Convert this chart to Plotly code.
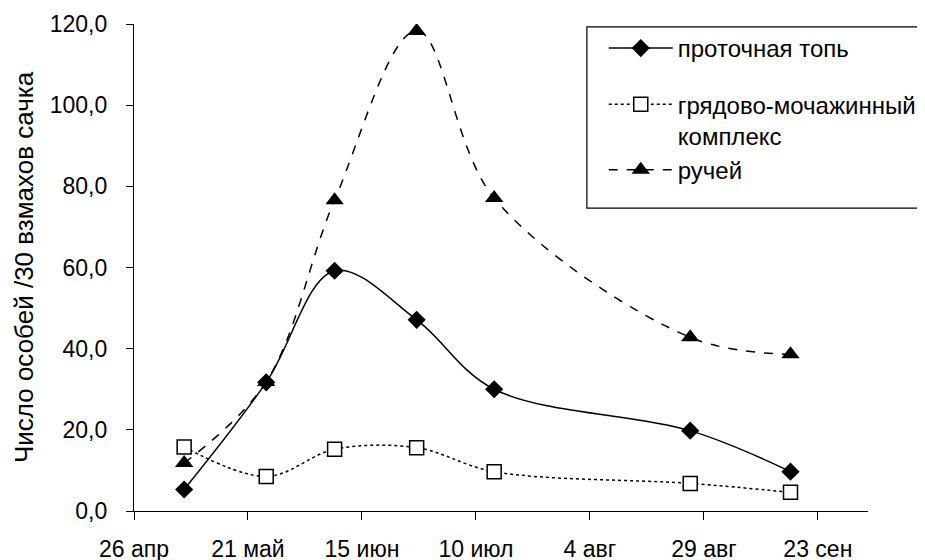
import plotly.graph_objects as go

# sampling dates (year is arbitrary, only day/month matter)
dates = ["2001-05-07", "2001-05-25", "2001-06-09", "2001-06-27",
         "2001-07-14", "2001-08-26", "2001-09-17"]

protochnaya = [5.3, 31.7, 59.2, 47.1, 30.0, 19.8, 9.7]
gryadovo = [15.8, 8.5, 15.2, 15.6, 9.7, 6.8, 4.6]
ruchey = [11.8, 31.8, 76.6, 118.3, 77.1, 42.8, 38.6]

series_names = ["проточная топь", "грядово-мочажинный<br>комплекс", "ручей"]

tick_dates = ["2001-04-26", "2001-05-21", "2001-06-15", "2001-07-10",
              "2001-08-04", "2001-08-29", "2001-09-23"]
tick_labels = ["26 апр", "21 май", "15 июн", "10 июл", "4 авг", "29 авг", "23 сен"]

FONT = "Liberation Sans, Arial, sans-serif"

fig = go.Figure()

fig.add_trace(go.Scatter(
    x=dates, y=protochnaya, name=series_names[0], legendgroup="a",
    mode="lines+markers", line=dict(color="black", width=1.5, shape="spline"),
    marker=dict(symbol="diamond", size=14, color="black")))

fig.add_trace(go.Scatter(
    x=dates, y=gryadovo, name=series_names[1], legendgroup="b",
    mode="lines+markers", line=dict(color="black", width=1.5, dash="dot", shape="spline"),
    marker=dict(symbol="square", size=14, color="white", line=dict(color="black", width=1.5))))

fig.add_trace(go.Scatter(
    x=dates, y=ruchey, name=series_names[2], legendgroup="b",
    mode="lines+markers", line=dict(color="black", width=1.5, dash="dash", shape="spline"),
    marker=dict(symbol="triangle-up", size=16, color="black")))

# legend frame (runs off the right edge like the original)
fig.add_shape(type="rect", xref="paper", yref="paper",
              x0=0.617, x1=1.3, y0=0.622, y1=0.994,
              line=dict(color="black", width=1.2), fillcolor="rgba(0,0,0,0)")

# the page body has an 8px margin; the figure starts at (8, 8) in the window
# and is a bit wider than the window so the legend never pushes the margins
fig.update_layout(
    width=945, height=560,
    margin=dict(l=126, r=85, t=16, b=57),
    paper_bgcolor="white", plot_bgcolor="white",
    font=dict(family=FONT, color="black", size=23),
    separators=", ",
    showlegend=True,
    legend=dict(x=0.640, y=0.996, xanchor="left", yanchor="top",
                bgcolor="rgba(0,0,0,0)", borderwidth=0,
                font=dict(size=24), itemwidth=64, valign="top",
                tracegroupgap=22, traceorder="grouped"),
    xaxis=dict(type="date", range=["2001-04-26", "2001-10-04"],
               tickvals=tick_dates, ticktext=tick_labels,
               ticks="outside", ticklen=8, tickcolor="black", tickwidth=1.2,
               showline=True, linecolor="black", linewidth=1.2,
               showgrid=False, zeroline=False, ticklabelstandoff=9,
               tickfont=dict(size=23), automargin=False),
    yaxis=dict(range=[0, 120], dtick=20, tickformat=".1f",
               ticks="outside", ticklen=7, tickcolor="black", tickwidth=1.2,
               showline=True, linecolor="black", linewidth=1.2,
               showgrid=False, zeroline=False, ticklabelstandoff=14,
               tickfont=dict(size=23), automargin=False,
               title=dict(text="Число особей /30 взмахов сачка",
                          font=dict(size=26), standoff=8)),
)

fig.write_html("out.html")
